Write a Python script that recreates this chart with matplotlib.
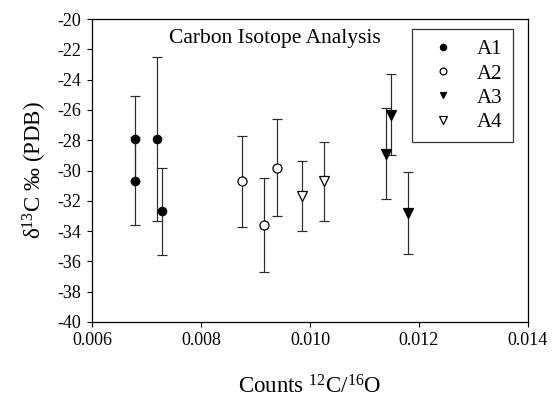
import matplotlib
matplotlib.use("Agg")
import matplotlib.pyplot as plt
from matplotlib.lines import Line2D

plt.rcParams['font.family'] = ['Liberation Serif', 'DejaVu Serif']
plt.rcParams['mathtext.fontset'] = 'custom'
plt.rcParams['mathtext.rm'] = 'Liberation Serif'
plt.rcParams['mathtext.it'] = 'Liberation Serif:italic'
plt.rcParams['axes.unicode_minus'] = False

# Data
A1_x = [0.00678, 0.00678, 0.00719, 0.00729]
A1_y = [-27.9, -30.7, -27.9, -32.7]
A1_err = [2.8, 2.9, 5.4, 2.9]

A2_x = [0.00875, 0.00915, 0.00940]
A2_y = [-30.7, -33.6, -29.8]
A2_err = [3.0, 3.1, 3.2]

A3_x = [0.01139, 0.01149, 0.01179]
A3_y = [-28.9, -26.3, -32.8]
A3_err = [3.0, 2.7, 2.7]

A4_x = [0.00985, 0.01025]
A4_y = [-31.7, -30.7]
A4_err = [2.3, 2.6]

x_ticks = [0.006, 0.008, 0.010, 0.012, 0.014]
x_ticklabels = ["0.006", "0.008", "0.010", "0.012", "0.014"]
y_ticks = list(range(-40, -19, 2))

fig = plt.figure(figsize=(5.52, 3.98), dpi=100)
ax = fig.add_axes([0.1667, 0.191, 0.7898, 0.761])

series = [
    ("A1", A1_x, A1_y, A1_err, dict(marker='o', mfc='black', mec='black', ms=6)),
    ("A2", A2_x, A2_y, A2_err, dict(marker='o', mfc='white', mec='black', ms=6.5)),
    ("A3", A3_x, A3_y, A3_err, dict(marker='v', mfc='black', mec='black', ms=6.5)),
    ("A4", A4_x, A4_y, A4_err, dict(marker='v', mfc='white', mec='black', ms=7)),
]
handles = []
for name, xs, ys, es, st in series:
    ax.errorbar(xs, ys, yerr=es, fmt='none', ecolor='#2a2a2a', elinewidth=0.85,
                capsize=3.6, capthick=0.85, zorder=2)
    ax.plot(xs, ys, linestyle='none', mew=0.9, zorder=3, **st)
    hst = dict(st)
    hst['ms'] = st['ms'] * 0.75
    handles.append(Line2D([], [], linestyle='none', mew=0.9, label=name, **hst))

ax.set_xlim(0.006, 0.014)
ax.set_ylim(-40, -20)
ax.set_xticks(x_ticks)
ax.set_xticklabels(x_ticklabels)
ax.set_yticks(y_ticks)
ax.tick_params(direction='out', length=3.5, width=0.8, labelsize=13, pad=4,
               top=False, right=False)
for sp in ax.spines.values():
    sp.set_linewidth(0.9)

ax.text(0.42, 0.937, "Carbon Isotope Analysis", transform=ax.transAxes,
        ha='center', va='center', fontsize=15.5)

ax.set_xlabel("Counts $^{12}$C/$^{16}$O", fontsize=16.5, labelpad=19)
ax.set_ylabel("δ$^{13}$C ‰ (PDB)", fontsize=16.5, labelpad=6)

leg = ax.legend(handles=handles, loc='upper right', bbox_to_anchor=(0.965, 0.966),
                frameon=True, fancybox=False, edgecolor='black', fontsize=15,
                handlelength=2.0, handletextpad=0.6, borderpad=0.5,
                labelspacing=0.22, borderaxespad=0)
leg.get_frame().set_linewidth(0.9)

fig.savefig("out.png", dpi=100)
